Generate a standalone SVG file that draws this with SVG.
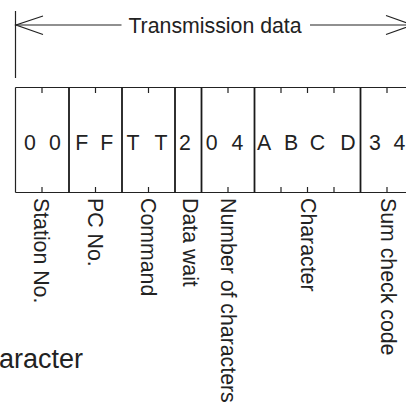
<svg xmlns="http://www.w3.org/2000/svg" width="406" height="404" viewBox="0 0 406 404">
<style>
.ln{stroke:#222;stroke-width:1.2;fill:none}
.mj{stroke:#1a1a1a;stroke-width:1.8;fill:none}
.tk{stroke:#222;stroke-width:1.2}
text{font-family:"Liberation Sans",Arial,sans-serif;font-size:21.3px;fill:#222}
.c{text-anchor:middle}
text.big{font-size:27px;text-anchor:end}
</style>
<rect width="406" height="404" fill="#fff"/>
<g id="connectors">
<line class="ln" x1="15.5" y1="11" x2="15.5" y2="78"/>
<line class="ln" x1="16" y1="25" x2="121.5" y2="25"/>
<line class="ln" x1="310" y1="25" x2="413" y2="25"/>
<polyline class="ln" points="43,16 16,25 43,34.5"/>
<polyline class="ln" points="386,15.5 413,25 386,34.5"/>
</g>
<g id="title"><text class="c" x="215" y="33">Transmission data</text></g>
<g id="frame">
<line class="ln" x1="15.5" y1="87.5" x2="414" y2="87.5"/>
<line class="ln" x1="15.5" y1="192.5" x2="414" y2="192.5"/>
<line class="ln" x1="15.5" y1="87.5" x2="15.5" y2="192.5"/>
<g class="mj">
<line x1="69" y1="87.5" x2="69" y2="192.5"/>
<line x1="122" y1="87.5" x2="122" y2="192.5"/>
<line x1="175" y1="87.5" x2="175" y2="192.5"/>
<line x1="201.5" y1="87.5" x2="201.5" y2="192.5"/>
<line x1="254.5" y1="87.5" x2="254.5" y2="192.5"/>
<line x1="360.5" y1="87.5" x2="360.5" y2="192.5"/>
</g>
<g class="tk">
<line x1="42" y1="88" x2="42" y2="93"/><line x1="42" y1="187" x2="42" y2="192"/>
<line x1="95.5" y1="88" x2="95.5" y2="93"/><line x1="95.5" y1="187" x2="95.5" y2="192"/>
<line x1="148.5" y1="88" x2="148.5" y2="93"/><line x1="148.5" y1="187" x2="148.5" y2="192"/>
<line x1="228" y1="88" x2="228" y2="93"/><line x1="228" y1="187" x2="228" y2="192"/>
<line x1="281" y1="88" x2="281" y2="93"/><line x1="281" y1="187" x2="281" y2="192"/>
<line x1="307.5" y1="88" x2="307.5" y2="93"/><line x1="307.5" y1="187" x2="307.5" y2="192"/>
<line x1="334" y1="88" x2="334" y2="93"/><line x1="334" y1="187" x2="334" y2="192"/>
<line x1="387" y1="88" x2="387" y2="93"/><line x1="387" y1="187" x2="387" y2="192"/>
</g>
</g>
<g id="station"><text class="c" x="30" y="150">0</text><text class="c" x="55" y="150">0</text>
<text transform="translate(34,198) rotate(90)">Station No.</text></g>
<g id="pc"><text class="c" x="81.7" y="150">F</text><text class="c" x="106.7" y="150">F</text>
<text transform="translate(87.5,198) rotate(90)">PC No.</text></g>
<g id="command"><text class="c" x="133" y="150">T</text><text class="c" x="161" y="150">T</text>
<text transform="translate(141,198) rotate(90)">Command</text></g>
<g id="datawait"><text class="c" x="185" y="150">2</text>
<text transform="translate(182.5,198) rotate(90)">Data wait</text></g>
<g id="numchars"><text class="c" x="211.7" y="150">0</text><text class="c" x="237.5" y="150">4</text>
<text transform="translate(220.5,198) rotate(90)">Number of characters</text></g>
<g id="character"><text class="c" x="264" y="150">A</text><text class="c" x="291" y="150">B</text><text class="c" x="317.5" y="150">C</text><text class="c" x="348" y="150">D</text>
<text transform="translate(300.5,198) rotate(90)">Character</text></g>
<g id="sumcheck"><text class="c" x="375" y="150">3</text><text class="c" x="399.5" y="150">4</text>
<text transform="translate(381,198) rotate(90)">Sum check code</text></g>
<g id="stray"><text class="big" x="83" y="368" font-size="27">Character</text></g>
</svg>
